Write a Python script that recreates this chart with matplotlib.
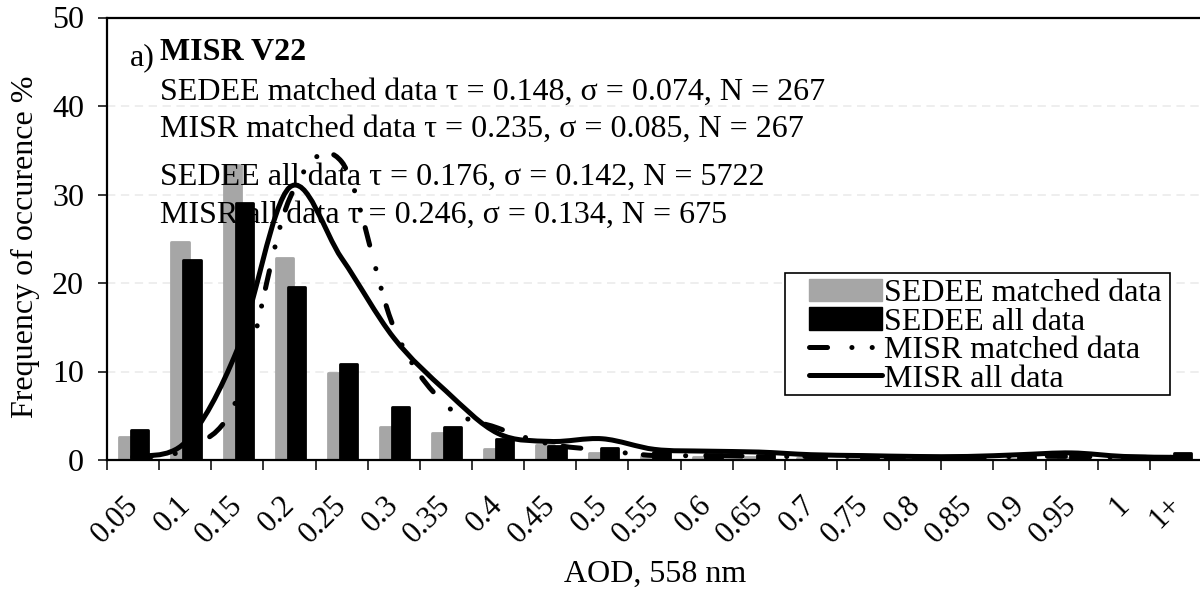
import matplotlib
matplotlib.use("Agg")  # headless
import matplotlib.pyplot as plt
import matplotlib.transforms as mtransforms
from matplotlib.lines import Line2D
from matplotlib.patches import Patch, PathPatch, Rectangle
from matplotlib.path import Path

plt.rcParams["font.family"] = ["Liberation Serif", "DejaVu Serif"]
plt.rcParams["lines.scale_dashes"] = False

# ---- data -------------------------------------------------------------------
AOD_BINS = ["0.05", "0.1", "0.15", "0.2", "0.25", "0.3", "0.35", "0.4", "0.45",
            "0.5", "0.55", "0.6", "0.65", "0.7", "0.75", "0.8", "0.85", "0.9",
            "0.95", "1", "1+"]

SEDEE_MATCHED = [2.6, 24.6, 33.3, 22.8, 9.8, 3.7, 3.1, 1.2, 1.7, 0.8, 0.4,
                 0.3, 0.3, 0.2, 0.2, 0.1, 0.1, 0.1, 0.2, 0.1, 0.2]
SEDEE_ALL = [3.4, 22.6, 29.0, 19.5, 10.8, 6.0, 3.7, 2.4, 1.6, 1.3, 0.9,
             0.7, 0.6, 0.6, 0.6, 0.5, 0.4, 0.5, 0.6, 0.4, 0.8]
MISR_MATCHED = [0.3, 1.2, 7.0, 29.5, 33.7, 15.0, 6.2, 3.6, 1.8, 1.1, 0.5,
                0.5, 0.4, 0.4, 0.4, 0.3, 0.3, 0.4, 0.4, 0.3, 0.3]
MISR_ALL = [0.4, 2.0, 12.5, 30.8, 22.8, 13.8, 7.8, 3.0, 2.1, 2.4, 1.2,
            1.0, 0.9, 0.6, 0.5, 0.4, 0.4, 0.6, 0.8, 0.4, 0.3]

SERIES_LABELS = ["SEDEE matched data", "SEDEE all data",
                 "MISR matched data", "MISR all data"]
STATS_TEXT = [
    "SEDEE matched data \u03c4 = 0.148, \u03c3 = 0.074, N = 267",
    "MISR matched data \u03c4 = 0.235, \u03c3 = 0.085, N = 267",
    "SEDEE all data \u03c4 = 0.176, \u03c3 = 0.142, N = 5722",
    "MISR all data \u03c4 = 0.246, \u03c3 = 0.134, N = 675",
]
STATS_Y = [40.7, 36.5, 31.1, 26.8]

GREY = "#a6a6a6"
FS = 23
LW = 3.6
DASH_DOT_DOT = (0, (13, 17.5, 0.1, 14.5, 0.1, 13))


def smooth_path(ys):
    """Excel-style smoothed line: cubic Bezier through every category point."""
    xs = list(range(len(ys)))
    pts = list(zip(xs, ys))
    verts = [pts[0]]
    codes = [Path.MOVETO]
    n = len(pts)
    for i in range(n - 1):
        p0 = pts[max(i - 1, 0)]
        p1 = pts[i]
        p2 = pts[i + 1]
        p3 = pts[min(i + 2, n - 1)]
        c1 = (p1[0] + (p2[0] - p0[0]) / 6, p1[1] + (p2[1] - p0[1]) / 6)
        c2 = (p2[0] - (p3[0] - p1[0]) / 6, p2[1] - (p3[1] - p1[1]) / 6)
        verts += [c1, c2, p2]
        codes += [Path.CURVE4] * 3
    return Path(verts, codes)


fig = plt.figure(figsize=(12, 5.92), dpi=100)
ax = fig.add_axes([107 / 1200, 132 / 592, 1095 / 1200, 442.5 / 592])

x = list(range(len(AOD_BINS)))
bar_w = 0.33
ax.bar([i - 0.10 for i in x], SEDEE_MATCHED, width=bar_w, color=GREY,
       edgecolor=GREY, linewidth=2, joinstyle="round", zorder=2)
ax.bar([i + 0.13 for i in x], SEDEE_ALL, width=bar_w, color="black",
       edgecolor="black", linewidth=2, joinstyle="round", zorder=2)

ax.add_patch(PathPatch(smooth_path(MISR_MATCHED), fill=False, lw=LW,
                       edgecolor="black", linestyle=DASH_DOT_DOT,
                       capstyle="round", zorder=3))
ax.add_patch(PathPatch(smooth_path(MISR_ALL), fill=False, lw=LW,
                       edgecolor="black", capstyle="round", zorder=4))

ax.set_xlim(-0.5, len(AOD_BINS) - 0.5)
ax.set_ylim(0, 50)
ax.set_yticks(range(0, 51, 10))
ax.yaxis.grid(True, color="#ebebeb", linestyle=(0, (6, 4)), linewidth=1.2)
ax.set_axisbelow(True)

for side in ("left", "bottom", "top"):
    ax.spines[side].set_linewidth(1.6)
ax.spines["right"].set_visible(False)

ax.tick_params(axis="y", direction="out", length=6.5, width=1.1,
               labelsize=FS, pad=10)
ax.set_xticks(x)
ax.set_xticks([i - 0.5 for i in range(len(AOD_BINS) + 1)], minor=True)
ax.tick_params(axis="x", which="major", length=0, pad=22, labelsize=FS - 1)
ax.tick_params(axis="x", which="minor", direction="out", length=7, width=1.1)
ax.set_xticklabels(AOD_BINS, rotation=45, ha="right", va="top")
shift = mtransforms.ScaledTranslation(11 / 100, 0, fig.dpi_scale_trans)
for lab in ax.get_xticklabels():
    lab.set_transform(lab.get_transform() + shift)

fig.text(33 / 1200, 1 - 247 / 592, "Frequency of occurence %",
         rotation=90, rotation_mode="anchor", ha="center", va="baseline",
         fontsize=FS)
fig.text(655 / 1200, 1 - 582 / 592, "AOD, 558 nm", ha="center",
         va="baseline", fontsize=FS)

# panel title and statistics
ax.text(-0.06, 44.6, "a)", fontsize=FS, va="baseline", ha="left")
ax.text(0.52, 45.2, "MISR V22", fontsize=FS, va="baseline", ha="left",
        fontweight="bold")
for txt, yv in zip(STATS_TEXT, STATS_Y):
    ax.text(0.52, yv, txt, fontsize=FS, va="baseline", ha="left", zorder=5)

# legend: entries without frame, box drawn separately for a wider left margin
handles = [
    Patch(facecolor=GREY, edgecolor=GREY),
    Patch(facecolor="black", edgecolor="black"),
    Line2D([], [], color="black", lw=LW, linestyle=DASH_DOT_DOT,
           dash_capstyle="round"),
    Line2D([], [], color="black", lw=LW, solid_capstyle="round"),
]
ax.add_patch(Rectangle((0.619, 0.147), 0.352, 0.276, transform=ax.transAxes,
                       facecolor="white", edgecolor="black", linewidth=1.2,
                       zorder=6))
leg = ax.legend(handles, SERIES_LABELS, loc="upper left",
                bbox_to_anchor=(0.641, 0.409), borderaxespad=0,
                frameon=False, handlelength=2.29, handleheight=0.7,
                handletextpad=0.06, labelspacing=-0.03, borderpad=0,
                fontsize=FS)
leg.set_zorder(7)

fig.savefig("out.png", dpi=100)
